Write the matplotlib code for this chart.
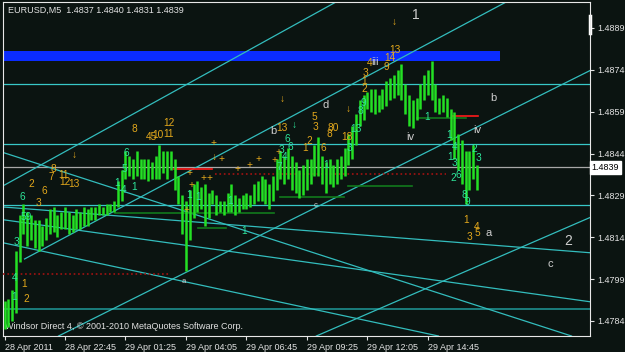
import matplotlib
matplotlib.use("Agg")
import matplotlib.pyplot as plt
import matplotlib.transforms as mtransforms

plt.rcParams["font.family"] = ["Liberation Sans", "DejaVu Sans"]

# EURUSD M5, one entry per 10 minutes starting 28 Apr 20:05
bar_high = [1.4791, 1.4792, 1.4795, 1.4809, 1.4822, 1.4826, 1.4823, 1.4822, 1.4820, 1.4820,
            1.4818, 1.4821, 1.4824, 1.4825, 1.4822, 1.4823, 1.4825, 1.4823, 1.4822, 1.4824,
            1.4823, 1.4825, 1.4824, 1.4825, 1.4825, 1.4826, 1.4825, 1.4826, 1.4826, 1.4827,
            1.4834, 1.4838, 1.4845, 1.4843, 1.4842, 1.4845, 1.4842, 1.4842, 1.4842, 1.4841,
            1.4843, 1.4847, 1.4845, 1.4845, 1.4845, 1.4842, 1.4836, 1.4829, 1.4827, 1.4831,
            1.4833, 1.4834, 1.4832, 1.4833, 1.4830, 1.4831, 1.4829, 1.4827, 1.4827, 1.4830,
            1.4833, 1.4829, 1.4828, 1.4829, 1.4830, 1.4829, 1.4833, 1.4834, 1.4836, 1.4835,
            1.4833, 1.4836, 1.4842, 1.4845, 1.4843, 1.4846, 1.4843, 1.4841, 1.4838, 1.4840,
            1.4842, 1.4842, 1.4847, 1.4850, 1.4843, 1.4841, 1.4842, 1.4840, 1.4842, 1.4843,
            1.4846, 1.4851, 1.4854, 1.4858, 1.4863, 1.4865, 1.4866, 1.4867, 1.4867, 1.4865,
            1.4867, 1.4870, 1.4871, 1.4872, 1.4874, 1.4876, 1.4869, 1.4865, 1.4863, 1.4864,
            1.4869, 1.4872, 1.4874, 1.4877, 1.4869, 1.4864, 1.4865, 1.4864, 1.4860, 1.4859,
            1.4851, 1.4849, 1.4845, 1.4845, 1.4847, 1.4840]
bar_low = [1.4781, 1.4782, 1.4784, 1.4787, 1.4805, 1.4815, 1.4811, 1.4813, 1.4810, 1.4809,
           1.4811, 1.4813, 1.4815, 1.4816, 1.4814, 1.4817, 1.4817, 1.4815, 1.4816, 1.4817,
           1.4817, 1.4818, 1.4818, 1.4820, 1.4820, 1.4822, 1.4822, 1.4822, 1.4823, 1.4823,
           1.4825, 1.4827, 1.4835, 1.4836, 1.4835, 1.4836, 1.4835, 1.4835, 1.4834, 1.4835,
           1.4835, 1.4835, 1.4837, 1.4835, 1.4838, 1.4831, 1.4826, 1.4815, 1.4802, 1.4813,
           1.4821, 1.4823, 1.4824, 1.4818, 1.4821, 1.4826, 1.4822, 1.4823, 1.4822, 1.4823,
           1.4823, 1.4822, 1.4823, 1.4824, 1.4824, 1.4825, 1.4826, 1.4827, 1.4827, 1.4826,
           1.4824, 1.4827, 1.4831, 1.4835, 1.4833, 1.4835, 1.4831, 1.4830, 1.4828, 1.4829,
           1.4831, 1.4833, 1.4836, 1.4836, 1.4833, 1.4830, 1.4833, 1.4832, 1.4833, 1.4835,
           1.4836, 1.4840, 1.4842, 1.4847, 1.4854, 1.4856, 1.4860, 1.4859, 1.4858, 1.4859,
           1.4860, 1.4861, 1.4863, 1.4864, 1.4865, 1.4863, 1.4858, 1.4854, 1.4853, 1.4856,
           1.4860, 1.4863, 1.4865, 1.4863, 1.4859, 1.4858, 1.4859, 1.4857, 1.4849, 1.4842,
           1.4838, 1.4833, 1.4826, 1.4831, 1.4835, 1.4831]

last_price = 1.4839
header = "EURUSD,M5  1.4837 1.4840 1.4831 1.4839"
footer = "Windsor Direct 4, \u00a9 2001-2010 MetaQuotes Software Corp."

price_ticks = [1.4889, 1.4874, 1.4859, 1.4844, 1.4829, 1.4814, 1.4799, 1.4784]
time_ticks = [0, 16, 32, 48, 64, 80, 96, 112]
time_labels = ["28 Apr 2011", "28 Apr 22:45", "29 Apr 01:25", "29 Apr 04:05",
               "29 Apr 06:45", "29 Apr 09:25", "29 Apr 12:05", "29 Apr 14:45"]

# blue zone (start, end, low, high)
zone = (-0.4, 131.2, 1.48772, 1.48808)
# full width horizontal levels
cyan_levels = [1.48688, 1.48473, 1.48256]
teal_levels = [1.47883]
# trend lines: (k0, p0, k1, p1)
trend_lines = [
    (0.0, 1.48327, 87.3, 1.48980),
    (5.3, 1.48062, 132.3, 1.48980),
    (14.3, 1.47786, 155.3, 1.48740),
    (82.5, 1.47786, 155.3, 1.48213),
    (0.0, 1.48442, 150.0, 1.47786),
    (0.0, 1.48119, 114.8, 1.47786),
    (0.0, 1.48202, 155.3, 1.47908),
    (0.0, 1.48248, 155.3, 1.48084),
]
# short segments: (k0, k1, price, color, style)
segments = [
    (55.6, 116.9, 1.48365, "#a31212", ":"),
    (44.9, 54.8, 1.48385, "#ff1a1a", "-"),
    (118.3, 125.4, 1.48573, "#ff1a1a", "-"),
    (-0.4, 43.7, 1.48008, "#a31212", ":"),
    (29.1, 71.4, 1.48227, "#127a1c", "-"),
    (72.8, 89.9, 1.48284, "#127a1c", "-"),
    (91.0, 107.7, 1.48324, "#127a1c", "-"),
    (109.0, 122.2, 1.48567, "#127a1c", "-"),
    (51.3, 58.7, 1.48173, "#127a1c", "-"),
]

wave_labels = [("1", 108.7, 1.48937, 10), ("2", 149.2, 1.48127, 10),
               ("b", 129.4, 1.48639, 8), ("c", 144.4, 1.48044, 8), ("a", 128.0, 1.48155, 8),
               ("d", 84.9, 1.48614, 8), ("iv", 107.4, 1.48499, 8), ("iv", 125.1, 1.48524, 8),
               ("b", 71.2, 1.48521, 8), ("iii", 97.9, 1.48768, 8),
               ("a", 47.4, 1.47983, 5.5), ("c", 82.3, 1.48252, 5.5)]
yellow_labels = [("\u2193", 103.2, 1.48911), ("\u2193", 18.5, 1.48435), ("\u2193", 73.5, 1.48636),
                 ("\u2193", 91.0, 1.48600), ("\u2193", 55.6, 1.48428),
                 ("12", 43.4, 1.48550), ("45", 38.9, 1.48499), ("10", 40.7, 1.48507),
                 ("11", 43.4, 1.48510), ("8", 34.4, 1.48528),
                 ("8", 12.9, 1.48385), ("11", 15.6, 1.48363), ("7", 12.4, 1.48356),
                 ("12", 15.9, 1.48338), ("13", 18.5, 1.48331), ("2", 7.1, 1.48331),
                 ("6", 10.6, 1.48306), ("3", 9.0, 1.48263), ("1", 5.3, 1.47973), ("2", 5.8, 1.47919),
                 ("13", 73.3, 1.48532), ("5", 82.0, 1.48571), ("3", 82.3, 1.48535),
                 ("2", 80.7, 1.48485), ("1", 79.4, 1.48460), ("80", 87.0, 1.48532),
                 ("8", 86.0, 1.48510), ("6", 84.4, 1.48460), ("18", 90.5, 1.48499),
                 ("13", 103.2, 1.48811), ("14", 101.9, 1.48783), ("9", 101.1, 1.48750),
                 ("4", 96.6, 1.48765), ("3", 95.5, 1.48729), ("1", 95.0, 1.48700), ("2", 95.2, 1.48671),
                 ("1", 122.2, 1.48202), ("4", 124.9, 1.48177), ("5", 125.1, 1.48155), ("3", 123.0, 1.48141),
                 ("+", 55.3, 1.48478), ("+", 57.4, 1.48421), ("+", 48.9, 1.48370), ("+", 49.5, 1.48327),
                 ("+", 52.6, 1.48352), ("+", 54.2, 1.48352), ("+", 61.6, 1.48385), ("+", 64.8, 1.48399),
                 ("+", 67.2, 1.48421), ("+", 71.4, 1.48417), ("+", 72.5, 1.48446), ("+", 48.1, 1.48238)]
green_labels = [("6", 4.8, 1.48284), ("59", 5.8, 1.48213), ("3", 3.2, 1.48123), ("4", 2.6, 1.47994),
                ("1", 2.4, 1.47926), ("6", 32.3, 1.48442), ("5", 31.7, 1.48385), ("1", 29.9, 1.48334),
                ("4", 31.5, 1.48309), ("1", 34.4, 1.48320), ("1", 48.9, 1.48291), ("1", 51.3, 1.48284),
                ("1", 59.8, 1.48270), ("1", 63.5, 1.48163), ("6", 74.9, 1.48492), ("6", 75.7, 1.48464),
                ("3", 73.3, 1.48453), ("4", 74.1, 1.48428), ("7", 72.8, 1.48392), ("\u2193", 76.7, 1.48542),
                ("9", 95.0, 1.48621), ("8", 94.2, 1.48593), ("13", 92.9, 1.48528), ("3", 91.3, 1.48460),
                ("1", 85.2, 1.48399), ("1", 111.9, 1.48571),
                ("1", 117.7, 1.48507), ("4", 119.0, 1.48464), ("1", 118.0, 1.48428), ("3", 119.0, 1.48406),
                ("2", 118.8, 1.48352), ("6", 120.1, 1.48363), ("2", 124.3, 1.48457), ("3", 125.4, 1.48424),
                ("8", 121.7, 1.48291), ("9", 122.5, 1.48266)]

bg = "#0b1411"
fg = "#e2e2e2"

fig = plt.figure(figsize=(6.25, 3.52), dpi=100, facecolor=bg)
ax = fig.add_axes([3 / 625, 16 / 352, 587 / 625, 334 / 352], facecolor=bg)
ax.set_xlim(-0.4, 154.9)
ax.set_ylim(1.47786, 1.48983)

ax.fill_between([zone[0], zone[1]], zone[2], zone[3], color="#0b2cff", lw=0, zorder=1)

for lvl in cyan_levels:
    ax.axhline(lvl, color="#38c8c8", lw=0.9, zorder=2)
for lvl in teal_levels:
    ax.axhline(lvl, color="#1f9a9a", lw=1.1, zorder=2)
ax.axhline(last_price, color="#a8a8a8", lw=0.9, zorder=2)

for k0, p0, k1, p1 in trend_lines:
    ax.plot([k0, k1], [p0, p1], color="#33bdbd", lw=0.9, zorder=2)

for k0, k1, p, c, ls in segments:
    ax.plot([k0, k1], [p, p], color=c, lw=1.2, ls=ls, zorder=3)

idx = list(range(len(bar_high)))
ax.vlines(idx, bar_low, bar_high, colors="#24e024", lw=1.8, zorder=4)

for t, k, p, s in wave_labels:
    ax.text(k, p, t, color="#cfcfcf", fontsize=s, ha="center", va="center", zorder=6)
for t, k, p in yellow_labels:
    ax.text(k, p, t, color="#e3a81c", fontsize=7.3, ha="center", va="center", zorder=6)
for t, k, p in green_labels:
    ax.text(k, p, t, color="#2ee59a", fontsize=7.3, ha="center", va="center", zorder=6)

ax.text(0.008, 0.975, header, transform=ax.transAxes, color=fg, fontsize=6.5, va="center", ha="left")
ax.text(0.004, 0.028, footer, transform=ax.transAxes, color=fg, fontsize=6.5, va="center", ha="left")

for s in ax.spines.values():
    s.set_color("#e8e8e8")
    s.set_linewidth(0.8)

ax.yaxis.tick_right()
ax.set_yticks(price_ticks)
ax.set_yticklabels(["%.4f" % v for v in price_ticks])
ax.set_xticks(time_ticks)
ax.set_xticklabels(time_labels)
for lbl in ax.get_xticklabels():
    lbl.set_ha("left")
ax.tick_params(axis="both", colors=fg, labelsize=6.5, length=3, width=0.8, pad=2)

trans = mtransforms.blended_transform_factory(ax.transAxes, ax.transData)
ax.text(1.003, last_price, "%.4f" % last_price, transform=trans, color="black", fontsize=6.5,
        va="center", ha="left", bbox=dict(fc="white", ec="white", pad=1.2))
ax.plot([1.0, 1.0], [1.48933, 1.48872], transform=trans, color="white", lw=2.5, clip_on=False)

fig.savefig("out.png", dpi=100, facecolor=bg)
